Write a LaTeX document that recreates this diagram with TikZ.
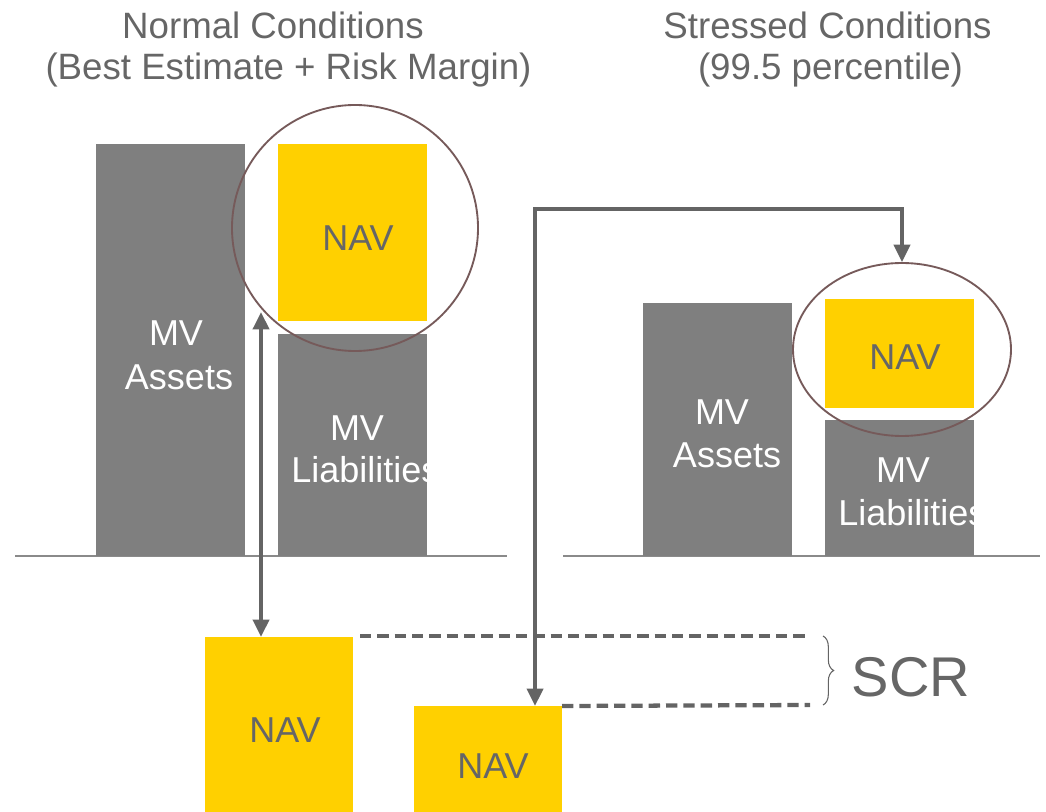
\documentclass[tikz,border=0pt]{standalone}
\usepackage{fontspec}
\setmainfont{Liberation Sans}
\usetikzlibrary{arrows.meta,decorations.pathreplacing,shapes.geometric}
\definecolor{boxgray}{HTML}{7F7F7F}
\definecolor{navyellow}{HTML}{FFD000}
\definecolor{txtgray}{HTML}{666666}
\definecolor{ringcol}{HTML}{765A5A}
\definecolor{linegray}{HTML}{646464}
\definecolor{groundgray}{HTML}{8A8A8A}

\tikzset{
  sz/.style 2 args={minimum width=#1*0.75pt, minimum height=#2*0.75pt},
  bar/.style={fill=boxgray, draw=none, inner sep=0, outer sep=0, anchor=north west},
  navbox/.style={fill=navyellow, draw=none, inner sep=0, outer sep=0, anchor=north west},
  whitetxt/.style={font=\fontsize{27}{33}\selectfont, text=white, inner sep=0},
  navtxt/.style={font=\fontsize{27}{33}\selectfont, text=txtgray, inner sep=0},
  titletxt/.style={font=\fontsize{27.5}{34}\selectfont, text=txtgray, inner sep=0},
  ground/.style={draw=groundgray, line width=1.1pt},
  ring/.style={draw=ringcol, line width=1.4pt, fill=none, inner sep=0},
  tip/.tip={Triangle[length=13pt,width=12pt]},
  link/.style={draw=linegray, line width=2.7pt, tip-tip},
  gapline/.style={draw=linegray, line width=3.2pt, dash pattern=on 8.5pt off 4.5pt},
}

\begin{document}
\begin{tikzpicture}[x=0.75pt,y=-0.75pt]
\useasboundingbox (0,0) rectangle (1046,812);

% headings
\node[titletxt] (t1a) at (273,25) {Normal Conditions};
\node[titletxt] (t1b) at (288.5,70) {(Best Estimate + Risk Margin)};
\node[titletxt] (t2a) at (827.5,25) {Stressed Conditions};
\node[titletxt] (t2b) at (830.5,70) {(99.5 percentile)};

% ground lines
\coordinate (g1a) at (15,556);
\coordinate (g1b) at (507,556);
\coordinate (g2a) at (563,556);
\coordinate (g2b) at (1040,556);
\draw[ground] (g1a) -- (g1b);
\draw[ground] (g2a) -- (g2b);

% normal balance sheet
\node[bar, sz={149}{412}] (assetsL) at (96,144) {};
\node[navbox, sz={149}{177}] (navL) at (278,144) {};
\node[bar, sz={149}{222}] (liabL) at (278,334) {};
\node[whitetxt] (assetsLa) at (176,333) {MV};
\node[whitetxt] (assetsLb) at (179,377) {Assets};
\node[navtxt] (navLt) at (358,238) {NAV};
\node[whitetxt] (liabLa) at (357,428) {MV};
\begin{scope}
  \clip (278,334) rectangle (427,556);
  \node[whitetxt, anchor=west] (liabLb) at (291,470) {Liabilities};
\end{scope}
\node[ring, circle, minimum size=246*0.75pt] (ringL) at (355,228) {};

% stressed balance sheet
\node[bar, sz={149}{253}] (assetsR) at (643,303) {};
\node[navbox, sz={149}{109}] (navR) at (825,299) {};
\node[bar, sz={149}{136}] (liabR) at (825,420) {};
\node[whitetxt] (assetsRa) at (722,412) {MV};
\node[whitetxt] (assetsRb) at (727,455) {Assets};
\node[navtxt] (navRt) at (905,357) {NAV};
\node[whitetxt] (liabRa) at (903,470) {MV};
\begin{scope}
  \clip (825,420) rectangle (974,556);
  \node[whitetxt, anchor=west] (liabRb) at (838,513) {Liabilities};
\end{scope}
\node[ring, ellipse, minimum width=218*0.75pt, minimum height=173*0.75pt] (ringR) at (902,349.5) {};

% net asset values compared
\node[navbox, sz={148}{175}] (navBL) at (205,637) {};
\node[navbox, sz={148}{106}] (navBR) at (414,706) {};
\node[navtxt] (navBLt) at (285,730) {NAV};
\node[navtxt] (navBRt) at (493,766) {NAV};

% double arrow between the normal NAV and its copy
\coordinate (dTop) at (261,312);
\draw[link] (dTop) -- (dTop |- navBL.north);

% elbow arrow between the stressed NAV copy and the stressed sheet
\coordinate (eUp) at (535,209);
\draw[link] (eUp |- navBR.north) -- (eUp) -| (ringR.north);

% SCR gap
\coordinate (dA) at (360,636);
\coordinate (dB) at (810,636);
\coordinate (dC) at (810,705);
\draw[gapline] (dA) -- (dB);
\draw[gapline] (navBR.north east) -- (dC);
\coordinate (bA) at (823,636);
\coordinate (bB) at (823,705);
\draw[draw=linegray, line width=0.8pt, decorate, decoration={brace, amplitude=8pt}] (bA) -- (bB);
\node[font=\fontsize{42}{50}\selectfont, text=txtgray, inner sep=0] (scr) at (911,677) {SCR};
\end{tikzpicture}
\end{document}
